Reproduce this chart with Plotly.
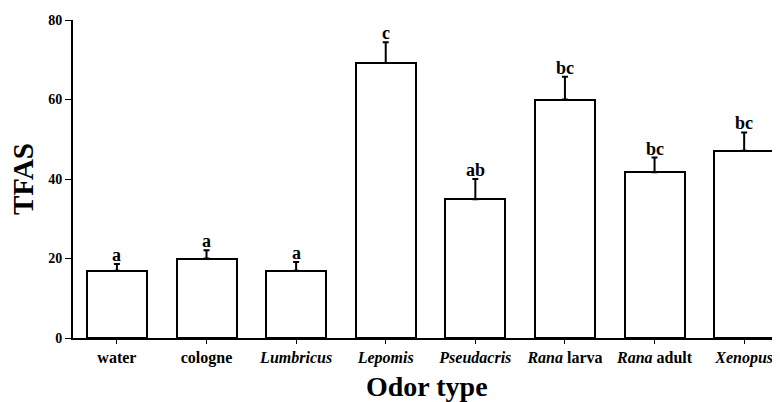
import plotly.graph_objects as go

categories = ["water", "cologne", "<i>Lumbricus</i>", "<i>Lepomis</i>", "<i>Pseudacris</i>",
              "<i>Rana</i> larva", "<i>Rana</i> adult", "<i>Xenopus</i>"]
means = [16.9, 20.0, 16.9, 69.2, 34.9, 60.0, 41.7, 47.1]
errors = [1.7, 2.1, 2.2, 5.2, 5.1, 5.7, 3.7, 4.6]
letters = ["a", "a", "a", "c", "ab", "bc", "bc", "bc"]
y_ticks = [0, 20, 40, 60, 80]

FONT = "Liberation Serif"
xs = list(range(len(categories)))

# page is drawn with an 8px body margin; compensate in figure geometry
W, H = 772, 394
ML, MT, MB = 65, 12, 64
PW = W - ML
PH = H - MT - MB

fig = go.Figure()
fig.add_trace(go.Bar(
    x=xs, y=means, width=0.67,
    marker=dict(color="white", line=dict(color="black", width=2)),
    error_y=dict(type="data", array=errors, arrayminus=[0]*len(errors),
                 symmetric=False, color="black", thickness=2, width=3),
    showlegend=False,
))

for x, m, e, t in zip(xs, means, errors, letters):
    fig.add_annotation(x=x, y=m + e, text=f"<b>{t}</b>", showarrow=False,
                       yanchor="bottom", yshift=-3,
                       font=dict(family=FONT, size=18, color="black"))

fig.add_annotation(x=0.5, xref="paper", y=(330 - 378) / PH, yref="paper",
                   text="<b>Odor type</b>", showarrow=False,
                   xanchor="center", yanchor="middle",
                   font=dict(family=FONT, size=28, color="black"))
fig.add_annotation(x=(15 - ML) / PW, xref="paper", y=0.5, yref="paper",
                   text="<b>TFAS</b>", showarrow=False, textangle=-90,
                   xanchor="center", yanchor="middle",
                   font=dict(family=FONT, size=29, color="black"))

fig.update_layout(
    width=W, height=H,
    margin=dict(l=ML, r=0, t=MT, b=MB, autoexpand=False),
    plot_bgcolor="white", paper_bgcolor="white",
    font=dict(family=FONT, color="black"),
    bargap=0,
)

fig.update_xaxes(
    tickmode="array", tickvals=xs, ticktext=categories,
    range=[-0.49, 7.4], automargin=False,
    showline=True, linecolor="black", linewidth=2,
    ticks="outside", ticklen=4, tickwidth=1, tickcolor="black",
    tickfont=dict(family=FONT, size=16, weight="bold", color="black"),
    showgrid=False, zeroline=False,
)
fig.update_yaxes(
    tickmode="array", tickvals=y_ticks, ticktext=[str(v) for v in y_ticks],
    range=[0, 80], automargin=False,
    showline=True, linecolor="black", linewidth=2,
    ticks="outside", ticklen=6, tickwidth=1, tickcolor="black",
    tickfont=dict(family=FONT, size=14, weight="bold", color="black"),
    showgrid=False, zeroline=False,
)

fig.write_html("out.html")
